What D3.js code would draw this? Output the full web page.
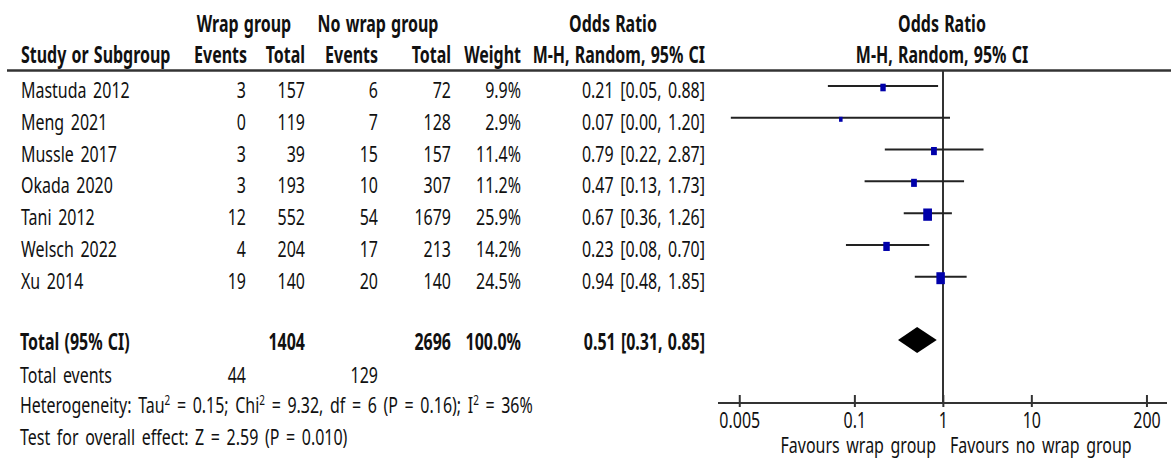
<!DOCTYPE html>
<html>
<head>
<meta charset="utf-8">
<script src="https://cdn.jsdelivr.net/npm/d3@7"></script>
<style>
  body { margin: 0; background: #fff; }
  svg text { font-family: "Noto Sans", sans-serif; font-size: 22.5px; fill: #111; word-spacing: 3.5px; }
  svg .bold { font-weight: bold; word-spacing: 1.5px; }
</style>
</head>
<body>
<svg id="chart"></svg>
<script>
// study data
const studies = ["Mastuda 2012", "Meng 2021", "Mussle 2017", "Okada 2020", "Tani 2012", "Welsch 2022", "Xu 2014"];
const wrapEvents = [3, 0, 3, 3, 12, 4, 19];
const wrapTotal = [157, 119, 39, 193, 552, 204, 140];
const noWrapEvents = [6, 7, 15, 10, 54, 17, 20];
const noWrapTotal = [72, 128, 157, 307, 1679, 213, 140];
const weights = [9.9, 2.9, 11.4, 11.2, 25.9, 14.2, 24.5];
const oddsRatio = [0.21, 0.07, 0.79, 0.47, 0.67, 0.23, 0.94];
const ciLower = [0.05, 0.004, 0.22, 0.13, 0.36, 0.08, 0.48];
const ciUpper = [0.88, 1.20, 2.87, 1.73, 1.26, 0.70, 1.85];

// pooled result: estimate, lower, upper
const pooledOR = [0.51, 0.31, 0.85];
const pooledTotals = [1404, 2696];
const pooledEvents = [44, 129];
const pooledWeight = 100.0;

const axisTicks = [0.005, 0.1, 1, 10, 200];

const W = 1171, H = 465;
const SX = 0.71; // the figure is squeezed horizontally
const X = (x) => x / SX;

let svg = d3.select("#chart")
  .attr("width", W)
  .attr("height", H)
  .attr("viewBox", `0 0 ${W / SX} ${H}`)
  .attr("preserveAspectRatio", "none");

const ns = "non-scaling-stroke";

let xScale = d3.scaleLog().domain([0.005, 200]).range([X(739.4), X(1146.6)]);
let yScale = d3.scaleLinear().domain([0, studies.length - 1]).range([86, 276.7]);
let sizeScale = d3.scaleSqrt().domain([0, d3.max(weights)]).range([0, 12.3]);
const side = (i) => Math.max(5, sizeScale(weights[i]));

function put(x, y, text, anchor, cls) {
  return svg.append("text")
    .attr("x", X(x))
    .attr("y", y)
    .attr("text-anchor", anchor || "start")
    .attr("class", cls || null)
    .text(text);
}

// headers
put(244, 32, "Wrap group", "middle", "bold");
put(378, 32, "No wrap group", "middle", "bold");
put(613, 32, "Odds Ratio", "middle", "bold");
put(942, 32, "Odds Ratio", "middle", "bold");
put(21, 63.5, "Study or Subgroup", "start", "bold");
put(247, 63.5, "Events", "end", "bold");
put(305, 63.5, "Total", "end", "bold");
put(378, 63.5, "Events", "end", "bold");
put(451, 63.5, "Total", "end", "bold");
put(521, 63.5, "Weight", "end", "bold");
put(705, 63.5, "M-H, Random, 95% CI", "end", "bold");
put(942, 63.5, "M-H, Random, 95% CI", "middle", "bold");

svg.append("line")
  .attr("x1", X(7)).attr("x2", X(1171))
  .attr("y1", 70.5).attr("y2", 70.5)
  .attr("stroke", "#333").attr("stroke-width", 2.5)
  .attr("vector-effect", ns);

// study rows
const fmt = (v) => v.toFixed(2);
const cols = [
  { x: 21, anchor: "start", value: (i) => studies[i] },
  { x: 246, anchor: "end", value: (i) => wrapEvents[i] },
  { x: 305, anchor: "end", value: (i) => wrapTotal[i] },
  { x: 378, anchor: "end", value: (i) => noWrapEvents[i] },
  { x: 451, anchor: "end", value: (i) => noWrapTotal[i] },
  { x: 521, anchor: "end", value: (i) => weights[i].toFixed(1) + "%" },
  { x: 705, anchor: "end", value: (i) => `${fmt(oddsRatio[i])} [${fmt(ciLower[i])}, ${fmt(ciUpper[i])}]` }
];

let idx = d3.range(studies.length);
cols.forEach((c) => {
  svg.append("g").selectAll("text")
    .data(idx)
    .enter()
    .append("text")
    .attr("x", X(c.x))
    .attr("y", (i) => yScale(i) + 12)
    .attr("text-anchor", c.anchor)
    .text(c.value);
});

// total rows
put(20, 350.5, "Total (95% CI)", "start", "bold");
put(305, 350.5, pooledTotals[0], "end", "bold");
put(451, 350.5, pooledTotals[1], "end", "bold");
put(521, 350.5, pooledWeight.toFixed(1) + "%", "end", "bold");
put(705, 350.5, `${fmt(pooledOR[0])} [${fmt(pooledOR[1])}, ${fmt(pooledOR[2])}]`, "end", "bold");

put(20, 383, "Total events");
put(246, 383, pooledEvents[0], "end");
put(378, 383, pooledEvents[1], "end");

// text with superscripts: the raised part is shifted up, the next part back down
function richText(x, y, parts) {
  let t = svg.append("text").attr("x", X(x)).attr("y", y);
  let raised = false;
  parts.forEach((p) => {
    if (p.sup) {
      t.append("tspan").attr("dy", -8).style("font-size", "14px").text(p.sup);
      raised = true;
    } else {
      t.append("tspan").attr("dy", raised ? 8 : 0).text(p.t);
      raised = false;
    }
  });
}
richText(20, 413, [
  { t: "Heterogeneity: Tau" }, { sup: "2" }, { t: " = 0.15; Chi" }, { sup: "2" },
  { t: " = 9.32, df = 6 (P = 0.16); I" }, { sup: "2" }, { t: " = 36%" }
]);
put(20, 445, "Test for overall effect: Z = 2.59 (P = 0.010)");

// forest plot
const axisY = 403;
svg.append("line")
  .attr("x1", xScale(1)).attr("x2", xScale(1))
  .attr("y1", 70.5).attr("y2", axisY)
  .attr("stroke", "#333").attr("stroke-width", 2)
  .attr("vector-effect", ns);

svg.append("g").selectAll("line")
  .data(idx)
  .enter()
  .append("line")
  .attr("x1", (i) => xScale(ciLower[i]))
  .attr("x2", (i) => xScale(ciUpper[i]))
  .attr("y1", (i) => yScale(i))
  .attr("y2", (i) => yScale(i))
  .attr("stroke", "#222")
  .attr("stroke-width", 2)
  .attr("vector-effect", ns);

svg.append("g").selectAll("rect")
  .data(idx)
  .enter()
  .append("rect")
  .attr("x", (i) => xScale(oddsRatio[i]) - side(i) / 2)
  .attr("y", (i) => yScale(i) + 1.5 - side(i) / 2)
  .attr("width", side)
  .attr("height", side)
  .attr("fill", "#0000aa");

const dY = 340, dH = 13;
svg.append("path")
  .attr("d", `M${xScale(pooledOR[1])},${dY} L${xScale(pooledOR[0])},${dY - dH} L${xScale(pooledOR[2])},${dY} L${xScale(pooledOR[0])},${dY + dH} Z`)
  .attr("fill", "#000");

// axis
svg.append("line")
  .attr("x1", X(718)).attr("x2", X(1167))
  .attr("y1", axisY).attr("y2", axisY)
  .attr("stroke", "#333").attr("stroke-width", 2)
  .attr("vector-effect", ns);

let axis = d3.axisBottom(xScale)
  .tickValues(axisTicks)
  .tickFormat((d) => String(d))
  .tickSize(12)
  .tickSizeOuter(0);

let gAxis = svg.append("g")
  .attr("transform", `translate(0,${axisY - 8})`)
  .call(axis);
gAxis.select(".domain").remove();
gAxis.selectAll(".tick line")
  .attr("stroke", "#333")
  .attr("stroke-width", 2)
  .attr("vector-effect", ns);
gAxis.selectAll(".tick text")
  .attr("y", 33)
  .attr("dy", 0);

put(936, 453, "Favours wrap group", "end");
put(950, 453, "Favours no wrap group", "start");
</script>
</body>
</html>
